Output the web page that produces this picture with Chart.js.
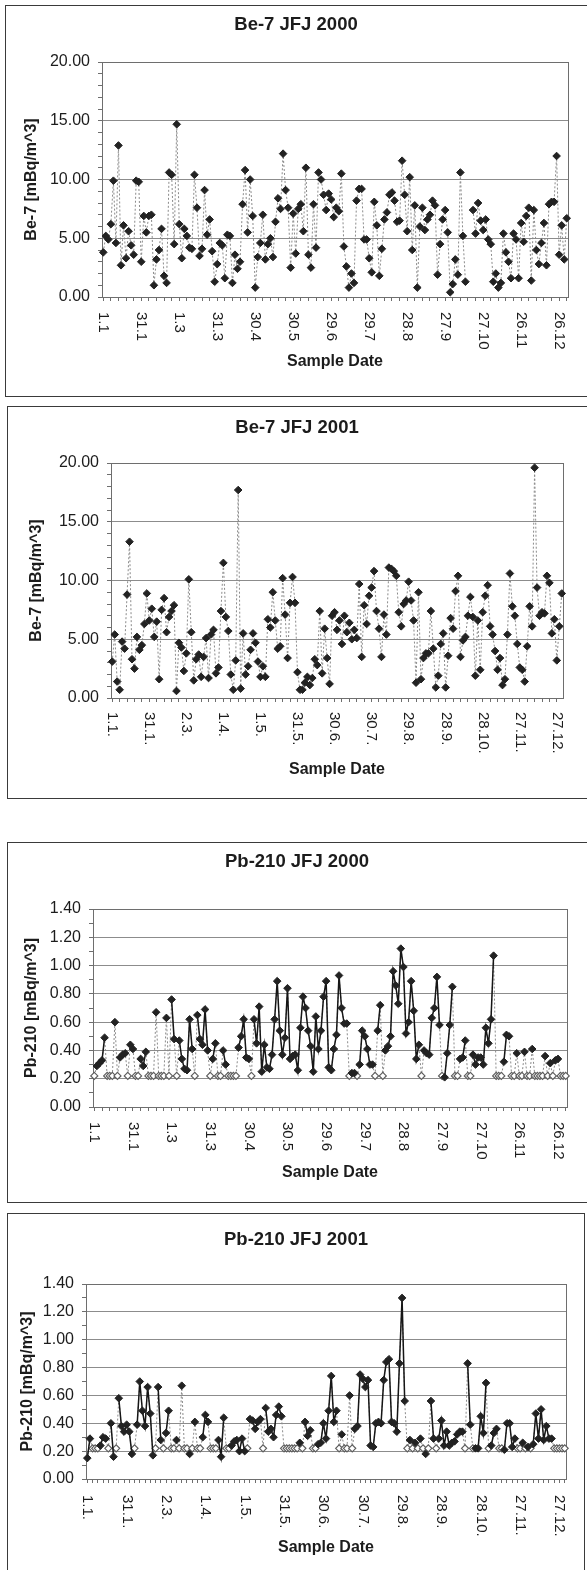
<!DOCTYPE html>
<html>
<head>
<meta charset="utf-8">
<title>Be-7 and Pb-210 JFJ 2000 / 2001</title>
<script src="https://cdn.jsdelivr.net/npm/chart.js@4.4.1/dist/chart.umd.min.js"></script>
<style>
  html, body { margin: 0; padding: 0; background: #fff; }
  body { position: relative; width: 587px; height: 1570px; overflow: hidden; }
  .frame { position: absolute; box-sizing: border-box; border: 1.5px solid #3a3a3a; }
  canvas { position: absolute; }
</style>
</head>
<body>
<div class="frame" style="left:5px; top:5px; width:600px; height:392px;"></div>
<canvas id="be7_2000" width="582" height="392" style="left:5px; top:5px;"></canvas>
<div class="frame" style="left:7px; top:406px; width:600px; height:393px;"></div>
<canvas id="be7_2001" width="580" height="393" style="left:7px; top:406px;"></canvas>
<div class="frame" style="left:7px; top:842px; width:600px; height:361px;"></div>
<canvas id="pb_2000" width="580" height="361" style="left:7px; top:842px;"></canvas>
<div class="frame" style="left:7px; top:1213px; width:578px; height:400px;"></div>
<canvas id="pb_2001" width="578" height="357" style="left:7px; top:1213px;"></canvas>

<script>
// one value per sample (about every second day)
// null = no sample (Be-7) or below detection limit (Pb-210)
const be7_2000 = [
  3.8, 5.2, 4.9, 6.2, 9.9, 4.6, 12.9, 2.7, 6.1, 3.3,
  5.6, 4.4, 3.6, 9.9, 9.8, 3.0, 6.9, 5.5, 6.9, 7.0,
  1.0, 3.2, 4.0, 5.8, 1.8, 1.2, 10.6, 10.4, 4.5, 14.7,
  6.2, 3.3, 5.8, 5.2, 4.2, 4.1, 10.4, 7.6, 3.5, 4.1,
  9.1, 5.3, 6.6, 3.9, 1.3, 2.8, 4.6, 4.4, 1.6, 5.3,
  5.2, 1.2, 3.6, 2.4, 3.0, 7.9, 10.8, 5.5, 10.0, 6.9,
  0.8, 3.4, 4.6, 7.0, 3.2, 4.5, 5.0, 3.4, 6.4, 8.4,
  7.5, 12.2, 9.1, 7.6, 2.5, 7.1, 3.7, 7.5, 7.9, 5.6,
  11.0, 3.6, 2.5, 7.9, 4.2, 10.6, 10.0, 8.7, 7.4, 8.8,
  8.3, 6.8, 7.6, 7.3, 10.5, 4.3, 2.6, 0.8, 2.0, 1.2,
  8.2, 9.2, 9.2, 4.9, 4.9, 3.3, 2.1, 8.1, 6.1, 1.8,
  4.1, 6.6, 7.2, 8.7, 8.9, 8.2, 6.4, 6.5, 11.6, 8.7,
  5.6, 10.2, 4.0, 7.8, 0.8, 6.0, 7.6, 5.7, 6.6, 7.0,
  8.2, 7.8, 1.9, 4.5, 6.6, 7.4, 5.5, 0.4, 1.1, 3.2,
  1.9, 10.6, 5.2, 1.3, null, null, 7.4, 5.4, 8.0, 6.5,
  5.7, 6.6, 4.9, 4.5, 1.3, 2.0, 0.8, 1.2, 5.4, 3.8,
  3.0, 1.6, 5.4, 4.9, 1.6, 6.3, 4.7, 6.9, 7.6, 1.4,
  7.4, 4.0, 2.8, 4.6, 6.3, 2.7, 7.9, 8.1, 8.1, 12.0,
  3.6, 6.1, 3.2, 6.7
];

const be7_2001 = [
  3.1, 5.4, 1.4, 0.7, 4.8, 4.2, 8.8, 13.3, 3.3, 2.5,
  5.2, 4.1, 4.5, 6.3, 8.9, 6.6, 7.6, 5.2, 6.5, 1.6,
  7.5, 8.5, 5.6, 6.9, 7.4, 7.9, 0.6, 4.7, 4.3, 2.3,
  3.8, 10.1, 5.6, 1.5, 3.3, 3.7, 1.8, 3.5, 5.1, 1.7,
  5.4, 5.8, 2.1, 2.6, 7.4, 11.5, 6.9, 5.7, 2.0, 0.7,
  3.2, 17.7, 0.8, 5.5, 2.0, 2.7, 4.1, 5.5, 4.7, 3.1,
  1.8, 2.7, 1.8, 6.7, 6.0, 9.0, 6.6, 4.2, 4.4, 10.2,
  7.1, 3.4, 8.1, 10.3, 8.1, 2.2, 0.7, 0.7, 1.3, 1.8,
  1.1, 1.7, 3.3, 2.8, 7.4, 2.1, 5.9, 3.4, 1.2, 7.0,
  7.3, 5.8, 6.6, 4.6, 7.0, 5.6, 6.4, 5.0, 5.8, 5.1,
  9.7, 3.5, 7.9, 6.3, 8.7, 9.4, 10.8, 7.4, 5.9, 3.5,
  7.1, 5.4, 11.1, 11.0, 10.8, 10.4, 7.3, 6.1, 8.0, 8.3,
  9.9, 8.3, 6.6, 1.3, 9.0, 1.6, 3.4, 3.8, 3.8, 7.4,
  4.2, 0.9, 1.9, 4.6, 5.5, 0.9, 3.6, 6.8, 5.9, 9.1,
  10.4, 3.5, 4.9, 5.2, 7.0, 8.6, 6.9, 1.9, 6.6, 2.4,
  7.3, 8.7, 9.6, 6.1, 5.4, 4.0, 2.4, 3.4, 1.1, 1.6,
  5.4, 10.6, 7.8, 7.0, 4.6, 2.6, 2.4, 1.4, 4.4, 7.8,
  6.1, 19.6, 9.4, 7.0, 7.3, 7.2, 10.4, 9.8, 5.5, 6.7,
  3.2, 6.1, 8.9
];

const pb210_2000 = [
  null, 0.29, 0.31, 0.33, 0.49, null, null, null, 0.60, null,
  0.35, 0.37, 0.38, null, 0.44, 0.41, null, null, 0.34, 0.29,
  0.39, null, null, null, 0.67, null, null, null, 0.63, null,
  0.76, 0.48, null, 0.47, 0.34, 0.27, 0.26, 0.62, 0.41, null,
  0.65, 0.48, 0.44, 0.69, 0.40, null, 0.34, 0.45, null, null,
  0.40, 0.30, null, null, null, null, 0.42, 0.50, 0.62, 0.35,
  0.34, null, 0.62, 0.45, 0.71, 0.25, 0.44, 0.28, 0.27, 0.37,
  0.62, 0.89, 0.54, 0.37, 0.49, 0.84, 0.34, 0.36, 0.37, 0.26,
  0.56, 0.78, 0.70, 0.54, 0.43, 0.25, 0.64, 0.41, 0.54, 0.78,
  0.89, 0.28, 0.26, 0.41, 0.51, 0.93, 0.70, 0.59, 0.59, null,
  0.24, 0.24, null, 0.30, 0.54, 0.50, 0.41, 0.30, 0.30, null,
  0.54, 0.72, null, 0.40, 0.43, 0.50, 0.96, 0.86, 0.73, 1.12,
  0.99, 0.52, 0.60, 0.89, 0.68, 0.34, 0.44, null, 0.40, 0.38,
  0.37, 0.63, 0.70, 0.92, 0.58, null, 0.21, 0.38, 0.58, 0.85,
  null, null, 0.34, 0.35, 0.47, null, null, 0.37, 0.30, 0.35,
  0.35, 0.30, 0.56, 0.45, 0.62, 1.07, null, null, null, 0.32,
  0.51, 0.50, null, null, 0.38, null, null, 0.39, null, null,
  0.41, null, null, null, null, 0.36, null, 0.31, null, 0.33,
  0.34, null, null, null
];

const pb210_2001 = [
  0.15, 0.29, null, null, null, 0.24, 0.30, 0.29, null, 0.40,
  0.16, null, 0.58, 0.38, 0.34, 0.39, 0.34, 0.18, null, 0.39,
  0.70, 0.49, 0.38, 0.66, 0.47, 0.17, null, 0.66, 0.28, null,
  0.33, 0.49, null, null, 0.28, null, 0.67, null, null, 0.18,
  null, 0.41, null, null, 0.30, 0.46, 0.41, null, null, null,
  0.28, 0.16, 0.44, null, null, 0.24, 0.27, 0.28, 0.20, 0.29,
  0.20, null, 0.43, 0.42, 0.36, 0.41, 0.43, null, 0.51, 0.34,
  0.36, 0.30, 0.46, 0.52, 0.45, null, null, null, null, null,
  null, 0.26, null, 0.41, 0.31, 0.35, null, null, 0.25, 0.26,
  0.40, 0.29, 0.49, 0.74, 0.41, 0.49, null, 0.32, null, null,
  0.60, null, 0.36, 0.38, 0.75, 0.72, 0.66, 0.71, 0.24, 0.23,
  0.40, 0.41, 0.40, 0.71, 0.84, 0.86, 0.41, 0.40, 0.34, 0.83,
  1.30, 0.56, null, 0.28, null, 0.26, null, 0.29, null, 0.18,
  null, 0.56, 0.29, null, 0.29, 0.42, 0.24, 0.34, 0.24, 0.26,
  0.27, 0.32, 0.34, 0.34, null, 0.83, 0.39, null, 0.22, 0.22,
  0.45, 0.33, 0.69, null, 0.24, 0.33, 0.36, null, null, 0.21,
  0.40, 0.40, 0.23, 0.29, null, null, 0.26, null, 0.23, null,
  0.25, 0.47, 0.29, 0.50, 0.28, 0.38, 0.29, 0.29, null, null,
  null, null, null
];

// samples below the limit are drawn at this level
const pbDetectionLimit = 0.22;

// date labels, one every 15th sample (30 days)
const dateTicks2000 = ['1.1', '31.1', '1.3', '31.3', '30.4', '30.5', '29.6', '29.7', '28.8', '27.9', '27.10', '26.11', '26.12'];
const dateTicks2001 = ['1.1.', '31.1.', '2.3.', '1.4.', '1.5.', '31.5.', '30.6.', '30.7.', '29.8.', '28.9.', '28.10.', '27.11.', '27.12.'];

const INK = '#1c1c1c';
const AXIS = '#6e6e6e';
const GRID = '#8c8c8c';
const NONE = 'rgba(0,0,0,0)';

Chart.defaults.font.family = '"Liberation Sans", Arial, Helvetica, sans-serif';
Chart.defaults.color = INK;

function sampleDates(year, n) {
  const out = [];
  for (let i = 0; i < n; i++) {
    const d = new Date(year, 0, 1 + 2 * i);
    out.push(d.getDate() + '.' + (d.getMonth() + 1) + '.');
  }
  return out;
}

// Excel-style date labels: turned 90 degrees clockwise, hanging under the axis
const dateLabels = {
  id: 'dateLabels',
  afterDraw(chart, args, opts) {
    const xs = chart.scales.x;
    const ctx = chart.ctx;
    ctx.save();
    ctx.font = '15px "Liberation Sans", Arial, sans-serif';
    ctx.fillStyle = INK;
    ctx.textAlign = 'left';
    ctx.textBaseline = 'middle';
    opts.labels.forEach((txt, k) => {
      const x = xs.getPixelForValue(k * opts.every);
      ctx.save();
      ctx.translate(x, chart.chartArea.bottom + opts.gap);
      ctx.rotate(Math.PI / 2);
      ctx.fillText(txt, 0, 0);
      ctx.restore();
    });
    ctx.restore();
  }
};

// grey box round the plot area
const plotFrame = {
  id: 'plotFrame',
  beforeDatasetsDraw(chart) {
    const a = chart.chartArea;
    const ctx = chart.ctx;
    ctx.save();
    ctx.strokeStyle = AXIS;
    ctx.lineWidth = 1;
    ctx.strokeRect(Math.round(a.left) + 0.5, Math.round(a.top) + 0.5,
      Math.round(a.right - a.left), Math.round(a.bottom - a.top));
    ctx.restore();
  }
};

function be7Sets(values) {
  return [{
    data: values,
    borderColor: '#8a8a8a',
    borderWidth: 1,
    borderDash: [2, 2],
    pointStyle: 'rectRot',
    pointRadius: 3.8,
    pointBackgroundColor: '#222',
    pointBorderColor: '#222',
    pointBorderWidth: 1,
    spanGaps: false
  }];
}

function pbSets(values) {
  return [
    {
      // measured values
      data: values,
      order: 0,
      borderColor: '#161616',
      borderWidth: 1.5,
      pointStyle: 'rectRot',
      pointRadius: 3.8,
      pointBackgroundColor: '#222',
      pointBorderColor: '#222',
      pointBorderWidth: 1,
      spanGaps: false
    },
    {
      // every sample, with the below-limit ones put at the detection limit
      data: values.map(v => (v === null ? pbDetectionLimit : v)),
      order: 1,
      borderColor: '#8a8a8a',
      borderWidth: 1,
      borderDash: [2, 2],
      pointStyle: 'rectRot',
      pointRadius: c => (values[c.dataIndex] === null ? 3.5 : 0),
      pointBackgroundColor: '#fff',
      pointBorderColor: '#5e5e5e',
      pointBorderWidth: 1.2
    }
  ];
}

function makeChart(o) {
  const major = o.isMajor;
  return new Chart(document.getElementById(o.id), {
    type: 'line',
    data: {
      labels: sampleDates(o.year, o.datasets[0].data.length),
      datasets: o.datasets
    },
    options: {
      responsive: false,
      animation: false,
      events: [],
      layout: { padding: 0 },
      plugins: {
        legend: { display: false },
        tooltip: { enabled: false },
        title: {
          display: true,
          text: o.title,
          color: INK,
          font: { size: 18.5, weight: 'bold' },
          padding: { top: o.titlePad[0], bottom: o.titlePad[1] }
        },
        dateLabels: { labels: o.dateTicks, every: 15, gap: o.labelGap }
      },
      scales: {
        x: {
          type: 'category',
          offset: true,
          border: { color: AXIS },
          grid: {
            drawOnChartArea: false,
            tickLength: 4,
            tickColor: c => (c.index % o.tickEvery === 0 ? AXIS : NONE)
          },
          ticks: { display: false, autoSkip: false },
          title: {
            display: true,
            text: 'Sample Date',
            color: INK,
            font: { size: 16, weight: 'bold' },
            padding: { top: 0, bottom: o.xTitlePad }
          },
          afterFit: s => { s.height = o.xHeight; }
        },
        y: {
          min: 0,
          max: o.yMax,
          border: { color: AXIS },
          grid: {
            tickLength: 4,
            tickColor: AXIS,
            color: c => (c.tick && major(c.tick.value) ? GRID : NONE)
          },
          ticks: {
            stepSize: o.yStep,
            autoSkip: false,
            color: INK,
            font: { size: 16 },
            padding: 8,
            callback: v => (major(v) ? v.toFixed(2) : '')
          },
          title: {
            display: true,
            text: o.yTitle,
            color: INK,
            font: { size: 16, weight: 'bold' },
            padding: { top: o.yTitlePad, bottom: 0 }
          },
          afterFit: s => { s.width = o.yWidth; }
        },
        right: {
          position: 'right',
          grid: { display: false },
          border: { display: false },
          ticks: { display: false },
          afterFit: s => { s.width = o.padRight; }
        }
      }
    },
    plugins: [plotFrame, dateLabels]
  });
}

const be7Major = v => Math.round(v) % 5 === 0;
const pbMajor = v => Math.round(v * 100) % 20 === 0;

makeChart({
  id: 'be7_2000', year: 2000, title: 'Be-7 JFJ 2000', yTitle: 'Be-7 [mBq/m^3]',
  datasets: be7Sets(be7_2000), dateTicks: dateTicks2000,
  yMax: 20, yStep: 1, isMajor: be7Major, tickEvery: 3,
  titlePad: [8.9, 25.9], yWidth: 97, padRight: 19, xHeight: 100,
  xTitlePad: 25.4, yTitlePad: 17.4, labelGap: 15
});

makeChart({
  id: 'be7_2001', year: 2001, title: 'Be-7 JFJ 2001', yTitle: 'Be-7 [mBq/m^3]',
  datasets: be7Sets(be7_2001), dateTicks: dateTicks2001,
  yMax: 20, yStep: 1, isMajor: be7Major, tickEvery: 3,
  titlePad: [10.9, 23.9], yWidth: 104, padRight: 24, xHeight: 101,
  xTitlePad: 19.4, yTitlePad: 20.4, labelGap: 14
});

makeChart({
  id: 'pb_2000', year: 2000, title: 'Pb-210 JFJ 2000', yTitle: 'Pb-210 [mBq/m^3]',
  datasets: pbSets(pb210_2000), dateTicks: dateTicks2000,
  yMax: 1.4, yStep: 0.1, isMajor: pbMajor, tickEvery: 3,
  titlePad: [8.9, 35.9], yWidth: 86, padRight: 20, xHeight: 96,
  xTitlePad: 20.4, yTitlePad: 15.4, labelGap: 15
});

makeChart({
  id: 'pb_2001', year: 2001, title: 'Pb-210 JFJ 2001', yTitle: 'Pb-210 [mBq/m^3]',
  datasets: pbSets(pb210_2001), dateTicks: dateTicks2001,
  yMax: 1.4, yStep: 0.1, isMajor: pbMajor, tickEvery: 2,
  titlePad: [15.9, 32.9], yWidth: 79, padRight: 19, xHeight: 91,
  xTitlePad: 12.4, yTitlePad: 11.4, labelGap: 16
});
</script>
</body>
</html>
